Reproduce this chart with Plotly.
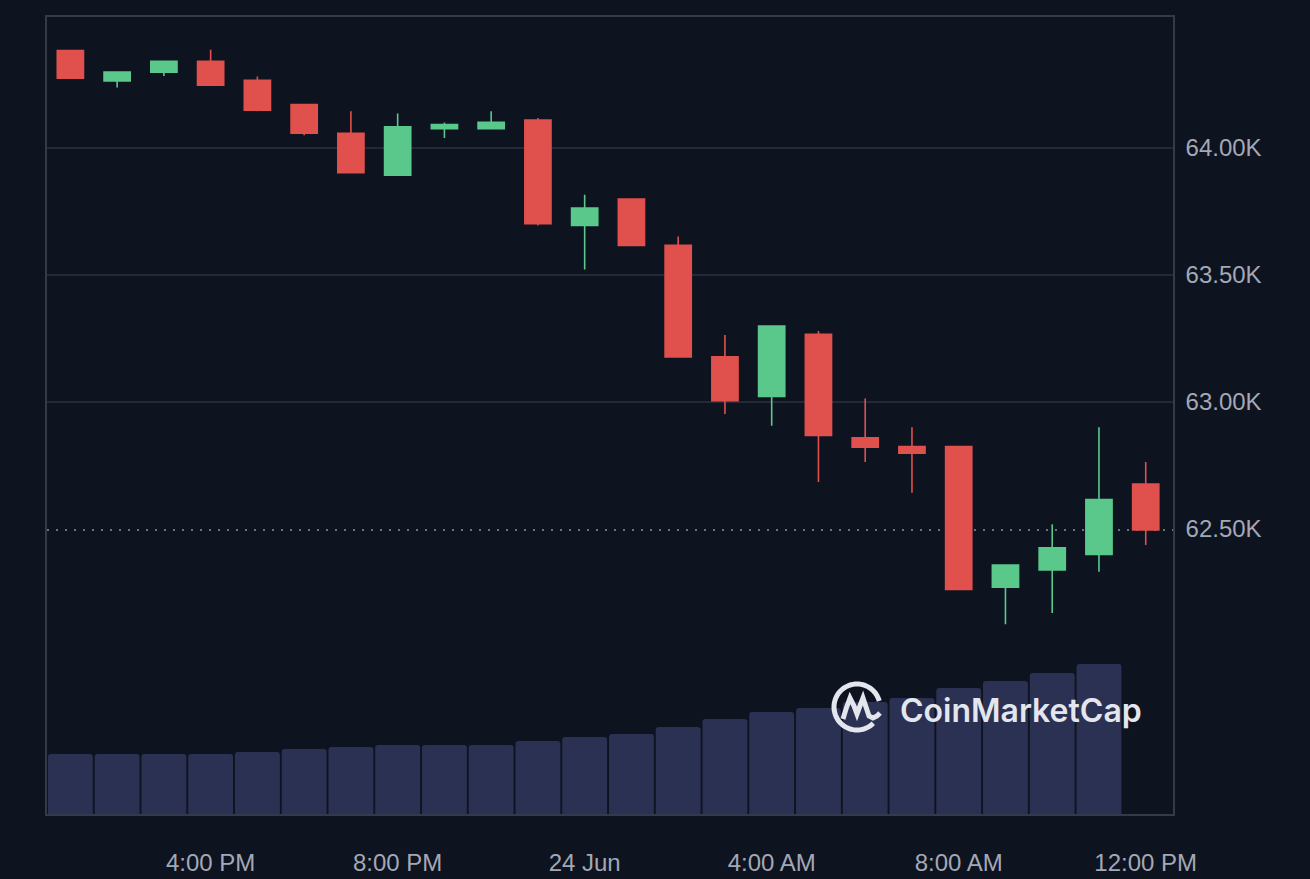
import math
import plotly.graph_objects as go

# ---------------- data ----------------
times = [
    "2024-06-23 13:00", "2024-06-23 14:00", "2024-06-23 15:00", "2024-06-23 16:00",
    "2024-06-23 17:00", "2024-06-23 18:00", "2024-06-23 19:00", "2024-06-23 20:00",
    "2024-06-23 21:00", "2024-06-23 22:00", "2024-06-23 23:00", "2024-06-24 00:00",
    "2024-06-24 01:00", "2024-06-24 02:00", "2024-06-24 03:00", "2024-06-24 04:00",
    "2024-06-24 05:00", "2024-06-24 06:00", "2024-06-24 07:00", "2024-06-24 08:00",
    "2024-06-24 09:00", "2024-06-24 10:00", "2024-06-24 11:00", "2024-06-24 12:00",
]
opens = [64384, 64264, 64299, 64342, 64267, 64171, 64058, 63893, 64076, 64076, 64110, 63695,
         63799, 63617, 63178, 63022, 63267, 62859, 62825, 62825, 62271, 62339, 62400, 62677]
highs = [64384, 64300, 64345, 64387, 64282, 64171, 64145, 64136, 64101, 64145, 64118, 63816,
         63800, 63652, 63264, 63300, 63280, 63014, 62901, 62827, 62360, 62519, 62901, 62764]
lows = [64275, 64238, 64284, 64245, 64145, 64050, 63903, 63890, 64040, 64076, 63695, 63522,
        63617, 63175, 62953, 62907, 62685, 62764, 62643, 62260, 62125, 62169, 62332, 62437]
closes = [64275, 64299, 64342, 64247, 64149, 64058, 63903, 64084, 64093, 64101, 63702, 63764,
          63617, 63178, 63005, 63299, 62868, 62822, 62799, 62262, 62358, 62426, 62616, 62496]
# volume (billions, 23 bars: the last candle has no bar yet)
volumes = [6.0, 6.0, 6.0, 6.0, 6.2, 6.5, 6.7, 6.9, 6.9, 6.9, 7.3, 7.7,
           8.0, 8.7, 9.5, 10.2, 10.6, 11.2, 11.6, 12.6, 13.3, 14.1, 15.0]

x_tickvals = ["2024-06-23 16:00", "2024-06-23 20:00", "2024-06-24 00:00",
              "2024-06-24 04:00", "2024-06-24 08:00", "2024-06-24 12:00"]
x_ticktext = ["4:00 PM", "8:00 PM", "24 Jun", "4:00 AM", "8:00 AM", "12:00 PM"]
y_tickvals = [62500, 63000, 63500, 64000]
y_ticktext = ["62.50K", "63.00K", "63.50K", "64.00K"]
grid_levels = [63000, 63500, 64000]

# ---------------- style ----------------
BG = "#0e1320"
GRID = "#2c3140"
BORDER = "#343a49"
RED = "#e0504c"
GREEN = "#5ac88b"
VOL = "#2b3152"
TICK = "#a3a8b6"
FONT = "Arial, Liberation Sans, sans-serif"

W, H = 1310, 879
ML, MR, MT, MB = 47, 137, 17, 65
PW, PH = W - ML - MR, H - MT - MB

fig = go.Figure()

fig.add_trace(go.Bar(
    x=times[:len(volumes)], y=volumes, yaxis="y2",
    marker=dict(color=VOL, line=dict(width=0), cornerradius=3),
    hoverinfo="skip", showlegend=False,
))

fig.add_trace(go.Candlestick(
    x=times, open=opens, high=highs, low=lows, close=closes,
    increasing=dict(line=dict(color=GREEN, width=1.6), fillcolor=GREEN),
    decreasing=dict(line=dict(color=RED, width=1.6), fillcolor=RED),
    whiskerwidth=0, showlegend=False, hoverinfo="skip",
))

shapes = []
for g in grid_levels:
    shapes.append(dict(type="line", xref="paper", x0=0, x1=1, yref="y", y0=g, y1=g,
                       line=dict(color=GRID, width=1.5), layer="below"))
# last price dotted line
shapes.append(dict(type="line", xref="paper", x0=0, x1=1, yref="y", y0=closes[-1], y1=closes[-1],
                   line=dict(color="#8c91a0", width=1.6, dash="2px,7px"), layer="below"))

# ---- watermark logo (decoration) ----
def px2p(px, py):
    return (px - ML) / PW, (MT + PH - py) / PH

cx, cy, r = 857, 707, 23
pts = []
for i in range(0, 61):
    a = math.radians(15 + i * (300 / 60))
    pts.append(px2p(cx + r * math.cos(a), cy - r * math.sin(a)))
arc = "M " + " L ".join(f"{x:.5f},{y:.5f}" for x, y in pts)
m_pix = [(843, 719), (846, 709), (850, 698), (854, 706), (857, 714), (860, 706), (863, 698),
         (866, 707), (869, 716), (873, 718), (877, 716), (880, 713)]
mp = [px2p(*p) for p in m_pix]
mpath = "M " + " L ".join(f"{x:.5f},{y:.5f}" for x, y in mp)
for pth in (arc, mpath):
    shapes.append(dict(type="path", xref="paper", yref="paper", path=pth,
                       line=dict(color="#e4e6ee", width=5), layer="above"))

fig.update_layout(
    width=W, height=H,
    margin=dict(l=ML, r=MR, t=MT, b=MB, autoexpand=False),
    paper_bgcolor=BG, plot_bgcolor=BG,
    font=dict(family=FONT, color=TICK),
    showlegend=False,
    boxgap=0.2,
    bargap=0.04,
    shapes=shapes,
    hovermode=False,
    xaxis=dict(
        type="date",
        range=["2024-06-23 12:30", "2024-06-24 12:35"],
        rangeslider=dict(visible=False),
        tickvals=x_tickvals, ticktext=x_ticktext,
        tickfont=dict(size=24, color=TICK, family=FONT),
        ticks="outside", ticklen=26, tickcolor="rgba(0,0,0,0)",
        showgrid=False, zeroline=False, automargin=False,
        showline=True, mirror=True, linecolor=BORDER, linewidth=1.5,
    ),
    yaxis=dict(
        range=[61378, 64516],
        side="right",
        tickvals=y_tickvals, ticktext=y_ticktext,
        tickfont=dict(size=24, color=TICK, family=FONT),
        ticks="outside", ticklen=6, tickcolor="rgba(0,0,0,0)",
        showgrid=False, zeroline=False, automargin=False,
        showline=True, mirror=True, linecolor=BORDER, linewidth=1.5,
    ),
    yaxis2=dict(
        overlaying="y", range=[0, 79.7], visible=False, showgrid=False,
    ),
    annotations=[dict(
        text="CoinMarketCap", xref="paper", yref="paper",
        x=(898 - ML) / PW, y=(MT + PH - 710) / PH, xanchor="left", yanchor="middle",
        showarrow=False,
        font=dict(family="Inter, Lato, sans-serif", size=32, color="#e4e6ee", weight=600),
    )],
)

fig.write_html("out.html")
